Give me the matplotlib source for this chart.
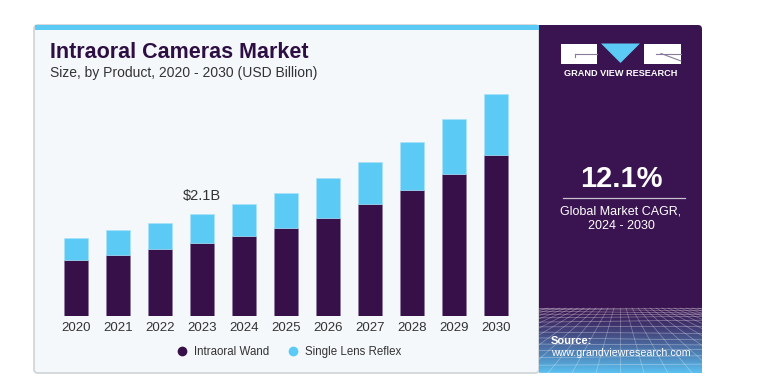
import numpy as np
import matplotlib
matplotlib.use("Agg")
import matplotlib.pyplot as plt
from matplotlib.patches import Rectangle, FancyBboxPatch, Polygon
from matplotlib.lines import Line2D

# data (USD billion)
years = ['2020', '2021', '2022', '2023', '2024', '2025', '2026', '2027', '2028', '2029', '2030']
intraoral_wand = [1.16, 1.25, 1.38, 1.51, 1.66, 1.82, 2.03, 2.31, 2.60, 2.93, 3.32]
single_lens_reflex = [0.46, 0.52, 0.54, 0.59, 0.65, 0.73, 0.81, 0.88, 1.00, 1.13, 1.27]
series_names = ['Intraoral Wand', 'Single Lens Reflex']
highlight_idx = 3
highlight_label = '$2.1B'
cagr_text = '12.1%'

dark = '#37104a'
light = '#5bcaf5'
panel = '#3a1450'
card_bg = '#f4f8fb'

plt.rcParams['font.family'] = ['Liberation Sans', 'DejaVu Sans']

W, H = 775, 379
fig = plt.figure(figsize=(W / 100, H / 100), dpi=100)
fig.patch.set_facecolor('white')

# background layer in pixel coords
bg = fig.add_axes([0, 0, 1, 1])
bg.set_xlim(0, W)
bg.set_ylim(H, 0)
bg.axis('off')

bg.add_patch(FancyBboxPatch((34, 25), 505, 348, boxstyle='round,pad=0,rounding_size=4',
                            fc=card_bg, ec='#cfd3d6', lw=1.2))
bg.add_patch(Rectangle((34.5, 25), 505, 5, fc=light, ec='none'))
bg.add_patch(FancyBboxPatch((539, 25), 163, 348, boxstyle='round,pad=0,rounding_size=4',
                            fc=panel, ec='none'))
bg.add_patch(Rectangle((539, 25), 10, 348, fc=panel, ec='none'))

# gradient with grid at bottom of panel
grad = np.linspace(0, 1, 100)[:, None]
c0 = np.array([0x3a, 0x14, 0x50]) / 255
c1 = np.array([0x5a, 0xc0, 0xf0]) / 255
img = c0 + (c1 - c0) * grad[..., None] ** 1.3
img = np.repeat(img, 2, axis=1)
bg.imshow(img, extent=(539, 702, 373, 306), aspect='auto', zorder=1)
clip = Rectangle((539, 306), 163, 67, transform=bg.transData)
for k in range(14):
    yy = 308 + 65 * (k / 13) ** 1.6
    ln, = bg.plot([539, 702], [yy, yy + 2 * np.sin(k)], color='white', lw=0.5, alpha=0.4, zorder=2)
    ln.set_clip_path(clip)
for k in range(-12, 26):
    x0 = 620 + k * 6
    ln, = bg.plot([x0, 620 + (x0 - 620) * 4], [308, 373], color='white', lw=0.5, alpha=0.35, zorder=2)
    ln.set_clip_path(clip)

# logo
bg.add_patch(Rectangle((561, 43.5), 36, 20, fc='white', ec='none', zorder=3))
bg.add_patch(Polygon([[601, 43.5], [640, 43.5], [620.5, 63]], fc=light, ec='none', zorder=3))
bg.add_patch(Rectangle((644, 43.5), 37, 20, fc='white', ec='none', zorder=3))
bg.plot([575, 597], [53.5, 53.5], color='#8a7a9a', lw=0.8, zorder=4)
bg.plot([575, 575], [53.5, 57], color='#8a7a9a', lw=0.8, zorder=4)
bg.plot([656, 681], [53.5, 53.5], color='#8a7a9a', lw=0.8, zorder=4)
bg.plot([661, 681], [53.5, 61], color='#8a7a9a', lw=0.8, zorder=4)
bg.text(620.5, 73.5, 'GRAND VIEW RESEARCH', color='white', fontsize=6.6, fontweight='bold',
        ha='center', va='center', zorder=4)

# CAGR block
bg.text(621, 179, cagr_text, color='white', fontsize=21, fontweight='bold', ha='center', va='center', zorder=4)
bg.plot([563, 685], [197.5, 197.5], color='#c9c0d2', lw=0.9, zorder=4)
bg.text(621, 211.5, 'Global Market CAGR,', color='white', fontsize=9, ha='center', va='center', zorder=4)
bg.text(621, 226, '2024 - 2030', color='white', fontsize=9, ha='center', va='center', zorder=4)

# source
bg.text(551, 340.5, 'Source:', color='white', fontsize=8, fontweight='bold', ha='left', va='center', zorder=4)
bg.text(551, 353, 'www.grandviewresearch.com', color='white', fontsize=7.7, ha='left', va='center', zorder=4)

# titles
bg.text(50, 52.5, 'Intraoral Cameras Market', color='#2e0f44', fontsize=15.5, fontweight='bold',
        ha='left', va='center')
bg.text(50, 73, 'Size, by Product, 2020 - 2030 (USD Billion)', color='#333333', fontsize=10,
        ha='left', va='center')

# bars
ax = fig.add_axes([55 / W, (H - 316) / H, 462 / W, 231 / H])
ax.set_facecolor('none')
x = np.arange(len(years))
ax.bar(x, intraoral_wand, width=0.57, color=dark, edgecolor='#8a7aa0', linewidth=0.4)
ax.bar(x, single_lens_reflex, bottom=intraoral_wand, width=0.57, color=light,
       edgecolor='#a9e2fa', linewidth=0.4)
ax.set_xlim(-0.5, len(years) - 0.5)
ax.set_ylim(0, 4.77)
ax.set_xticks(x)
ax.set_xticklabels(years, fontsize=9.5, color='#333333')
ax.tick_params(axis='x', length=0, pad=4)
ax.set_yticks([])
for s in ax.spines.values():
    s.set_visible(False)

total = intraoral_wand[highlight_idx] + single_lens_reflex[highlight_idx]
ax.annotate(highlight_label, (highlight_idx, total), xytext=(0, 8), textcoords='offset points',
            ha='center', va='bottom', fontsize=10.5, color='#333333')

handles = [Line2D([], [], marker='o', ls='none', ms=7, mfc=c, mec='none') for c in (dark, light)]
fig.legend(handles, series_names, loc='center', bbox_to_anchor=(286 / W, 1 - 352 / H),
           ncol=2, frameon=False, fontsize=8.3, handletextpad=0.1, columnspacing=1.0,
           labelcolor='#333333')

fig.savefig('out.png', dpi=100)
